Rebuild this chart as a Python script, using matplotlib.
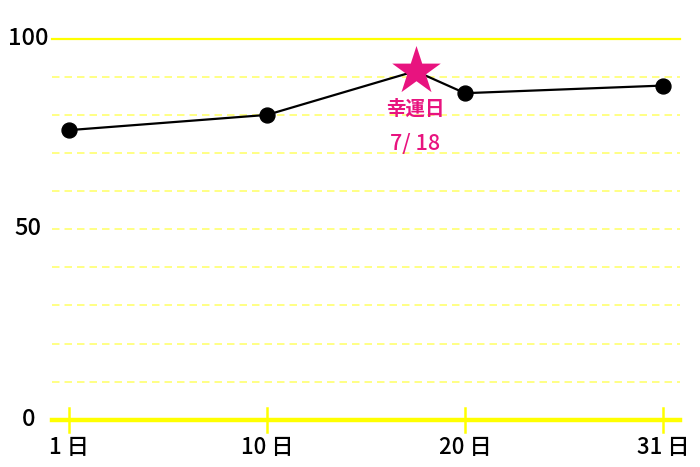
import matplotlib
matplotlib.use("Agg")
import matplotlib.pyplot as plt
from matplotlib.transforms import ScaledTranslation

plt.rcParams['font.family'] = ['Noto Sans CJK JP', 'DejaVu Sans']

# data
categories = ["1 日", "10 日", "20 日", "31 日"]
values = [76, 80, 85.7, 87.7]
star_pos = 1.75
star_value = 91.5
star_label = "幸運日"
star_date = "7/ 18"
y_ticks = [0, 50, 100]
grid_levels = [10, 20, 30, 40, 50, 60, 70, 80, 90]

YELLOW = "#FFFF00"
GRID = "#FFFF70"
PINK = "#E8137F"

fig = plt.figure(figsize=(7, 4.67), dpi=100)
ax = fig.add_axes([52/700, 47.3/467, 628/700, 381/467])
x = list(range(len(categories)))
ax.set_xlim(-17/198, 3 + 17/198)
ax.set_ylim(0, 100)
for s in ax.spines.values():
    s.set_visible(False)

for g in grid_levels:
    ax.axhline(g, color=GRID, lw=1.2, ls=(0, (4.5, 3)), zorder=1)
ax.axhline(100, color=YELLOW, lw=1.6, zorder=1, clip_on=False)
ax.axhline(0, color=YELLOW, lw=3.2, zorder=2, clip_on=False)
for xi in x:
    ax.plot([xi, xi], [-3.2, 3.2], color=YELLOW, lw=1.8, clip_on=False, zorder=2)

line_x = x[:2] + [star_pos] + x[2:]
line_y = values[:2] + [star_value] + values[2:]
ax.plot(line_x, line_y, color="black", lw=1.6, zorder=3)
ax.scatter(x, values, s=115, color="black", zorder=4)
ax.scatter([star_pos], [star_value], marker="*", s=1350, color=PINK, zorder=5, linewidths=0)
ax.text(star_pos, star_value - 10.0, star_label, color=PINK, fontsize=14,
        fontweight="bold", ha="center", va="center")
ax.text(star_pos, star_value - 19.2, star_date, color=PINK, fontsize=15.5,
        fontweight="medium", ha="center", va="center")

ax.set_xticks(x)
ax.set_xticklabels(categories, fontsize=16, fontweight="medium")
ax.set_yticks(y_ticks)
ax.set_yticklabels([str(v) for v in y_ticks], fontsize=17, fontweight="medium")
ax.tick_params(axis="both", length=0)
ax.tick_params(axis="x", pad=12)
ax.tick_params(axis="y", pad=0)
shift = ScaledTranslation(0, 3/100, fig.dpi_scale_trans)
for lab in ax.get_yticklabels():
    lab.set_horizontalalignment("center")
    lab.set_x(-0.038)
    lab.set_transform(lab.get_transform() + shift)

fig.savefig("out.png", dpi=100, facecolor="white")
